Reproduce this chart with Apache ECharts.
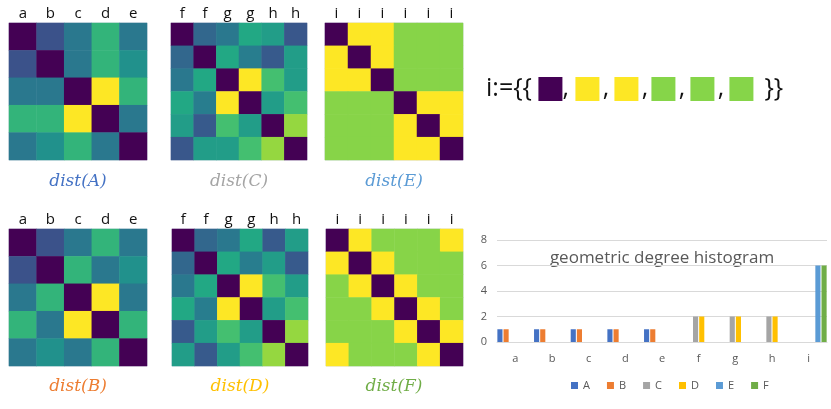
<!DOCTYPE html>
<html><head><meta charset="utf-8">
<script src="https://cdn.jsdelivr.net/npm/echarts@6/dist/echarts.min.js"></script>
<style>html,body{margin:0;padding:0;background:#fff}#c{width:831px;height:409px}</style>
</head><body><div id="c"></div>
<script>
// ---- heatmap tick labels ----
const labelsAB = ['a','b','c','d','e'];
const labelsCD = ['f','f','g','g','h','h'];
const labelsEF = ['i','i','i','i','i','i'];

// ---- distance matrices (normalised 0..1, viridis) ----
const distA = [
  [0.00,0.25,0.40,0.65,0.40],
  [0.25,0.00,0.40,0.65,0.50],
  [0.40,0.40,0.00,1.00,0.65],
  [0.65,0.65,1.00,0.00,0.40],
  [0.40,0.50,0.65,0.40,0.00]
];
const distB = [
  [0.00,0.25,0.40,0.65,0.40],
  [0.25,0.00,0.65,0.40,0.50],
  [0.40,0.65,0.00,1.00,0.40],
  [0.65,0.40,1.00,0.00,0.65],
  [0.40,0.50,0.40,0.65,0.00]
];
const distC = [
  [0.00,0.33,0.40,0.60,0.55,0.27],
  [0.33,0.00,0.60,0.42,0.28,0.55],
  [0.40,0.60,0.00,1.00,0.70,0.55],
  [0.60,0.42,1.00,0.00,0.55,0.70],
  [0.55,0.28,0.70,0.55,0.00,0.84],
  [0.27,0.55,0.55,0.70,0.84,0.00]
];
const distD = [
  [0.00,0.33,0.40,0.60,0.28,0.55],
  [0.33,0.00,0.60,0.42,0.55,0.28],
  [0.40,0.60,0.00,1.00,0.70,0.55],
  [0.60,0.42,1.00,0.00,0.55,0.70],
  [0.28,0.55,0.70,0.55,0.00,0.84],
  [0.55,0.28,0.55,0.70,0.84,0.00]
];
const distE = [
  [0.00,1.00,1.00,0.82,0.82,0.82],
  [1.00,0.00,1.00,0.82,0.82,0.82],
  [1.00,1.00,0.00,0.82,0.82,0.82],
  [0.82,0.82,0.82,0.00,1.00,1.00],
  [0.82,0.82,0.82,1.00,0.00,1.00],
  [0.82,0.82,0.82,1.00,1.00,0.00]
];
const distF = [
  [0.00,1.00,0.82,0.82,0.82,1.00],
  [1.00,0.00,1.00,0.82,0.82,0.82],
  [0.82,1.00,0.00,1.00,0.82,0.82],
  [0.82,0.82,1.00,0.00,1.00,0.82],
  [0.82,0.82,0.82,1.00,0.00,1.00],
  [1.00,0.82,0.82,0.82,1.00,0.00]
];

// ---- histogram ----
const histCategories = ['a','b','c','d','e','f','g','h','i'];
const histSeriesNames = ['A','B','C','D','E','F'];
const histA = [1,1,1,1,1,0,0,0,0];
const histB = [1,1,1,1,1,0,0,0,0];
const histC = [0,0,0,0,0,2,2,2,0];
const histD = [0,0,0,0,0,2,2,2,0];
const histE = [0,0,0,0,0,0,0,0,6];
const histF = [0,0,0,0,0,0,0,0,6];

const viridis = ['#440154','#482475','#414487','#355f8d','#2a788e','#21918c','#22a884','#44bf70','#7ad151','#bddf26','#fde725'];
const officeColors = ['#4472C4','#ED7D31','#A5A5A5','#FFC000','#5B9BD5','#70AD47'];

const panels = [
  {name:'A', m:distA, labels:labelsAB, box:[9,23,138,137],  lab:[78,182]},
  {name:'C', m:distC, labels:labelsCD, box:[171,23,136,137],lab:[239,182]},
  {name:'E', m:distE, labels:labelsEF, box:[325,23,138,137],lab:[394,182]},
  {name:'B', m:distB, labels:labelsAB, box:[9,229,138,137], lab:[78,387]},
  {name:'D', m:distD, labels:labelsCD, box:[172,229,136,137],lab:[240,387]},
  {name:'F', m:distF, labels:labelsEF, box:[326,229,137,137],lab:[394,387]}
];
const labelColor = {A:'#4472C4',B:'#ED7D31',C:'#A5A5A5',D:'#FFC000',E:'#5B9BD5',F:'#70AD47'};

const grids=[], xAxes=[], yAxes=[], series=[], graphics=[];
panels.forEach((p,k)=>{
  grids.push({left:p.box[0], top:p.box[1], width:p.box[2], height:p.box[3], show:true, borderColor:'#d6d9e6', borderWidth:1, backgroundColor:'transparent'});
  xAxes.push({type:'category', gridIndex:k, position:'top', data:p.labels,
    axisLine:{show:false}, axisTick:{show:false}, splitLine:{show:false},
    axisLabel:{color:'#111', fontSize:15, fontFamily:'Open Sans', margin:2, interval:0}});
  yAxes.push({type:'category', gridIndex:k, inverse:true, data:p.labels.map((_,i)=>String(i)), show:false});
  const d=[];
  p.m.forEach((row,i)=>row.forEach((v,j)=>d.push([j,i,v])));
  series.push({type:'heatmap', xAxisIndex:k, yAxisIndex:k, data:d, itemStyle:{borderWidth:0}, emphasis:{disabled:true}, progressive:0, animation:false});
  graphics.push({type:'text', x:p.lab[0], y:p.lab[1], style:{text:'dist('+p.name+')', align:'center', verticalAlign:'middle', fill:labelColor[p.name], font:'italic 17px "DejaVu Serif"'}});
});

// histogram grid
const hg = grids.length;
grids.push({left:497, right:4, top:240, bottom:67});
xAxes.push({type:'category', gridIndex:hg, data:histCategories,
  axisLine:{lineStyle:{color:'#d9d9d9'}}, axisTick:{show:false},
  axisLabel:{color:'#595959', fontSize:11, margin:11, fontFamily:'Open Sans'}});
yAxes.push({type:'value', gridIndex:hg, min:0, max:8, interval:2,
  axisLine:{show:false}, axisTick:{show:false},
  splitLine:{lineStyle:{color:'#d9d9d9'}},
  axisLabel:{color:'#595959', fontSize:11, margin:10, fontFamily:'Open Sans'}});
const histData=[histA,histB,histC,histD,histE,histF];
histData.forEach((arr,i)=>{
  series.push({type:'bar', name:histSeriesNames[i], xAxisIndex:hg, yAxisIndex:hg, data:arr,
    barGap:'20%', barCategoryGap:'2%', itemStyle:{color:officeColors[i]}, animation:false});
});

// formula graphic (rich text)
const sq = c => ({width:24, height:24, backgroundColor:c});
graphics.push({type:'text', x:486, y:89, style:{
  text:'i:={{ {p|}{c|,}{y|}{d|,}{y|}{c|,}{g|}{d|,}{g|}{d|,}{g|}{e|}}}',
  verticalAlign:'middle', align:'left', fill:'#111', font:'25px "Open Sans"',
  rich:{
    p:sq('#440154'), y:sq('#fde725'), g:sq('#86d549'),
    c:{width:13, align:'left', fontSize:25, fontFamily:'Open Sans', fill:'#111'},
    d:{width:13, align:'right', fontSize:25, fontFamily:'Open Sans', fill:'#111', padding:[0,2,0,0]},
    e:{width:11, height:24}
  }}});
graphics.push({type:'text', x:662, y:258, style:{text:'geometric degree histogram', align:'center', verticalAlign:'middle', fill:'#595959', font:'17px "Open Sans"'}});

const chart = echarts.init(document.getElementById('c'));
chart.setOption({
  animation:false,
  grid:grids, xAxis:xAxes, yAxis:yAxes, series:series,
  visualMap:{type:'continuous', show:false, min:0, max:1, seriesIndex:[0,1,2,3,4,5], inRange:{color:viridis}},
  legend:{data:histSeriesNames, left:566, top:375, icon:'rect', itemWidth:7, itemHeight:7, itemGap:17,
    textStyle:{color:'#595959', fontSize:11, fontFamily:'Open Sans'}},
  graphic:graphics
});
</script></body></html>
